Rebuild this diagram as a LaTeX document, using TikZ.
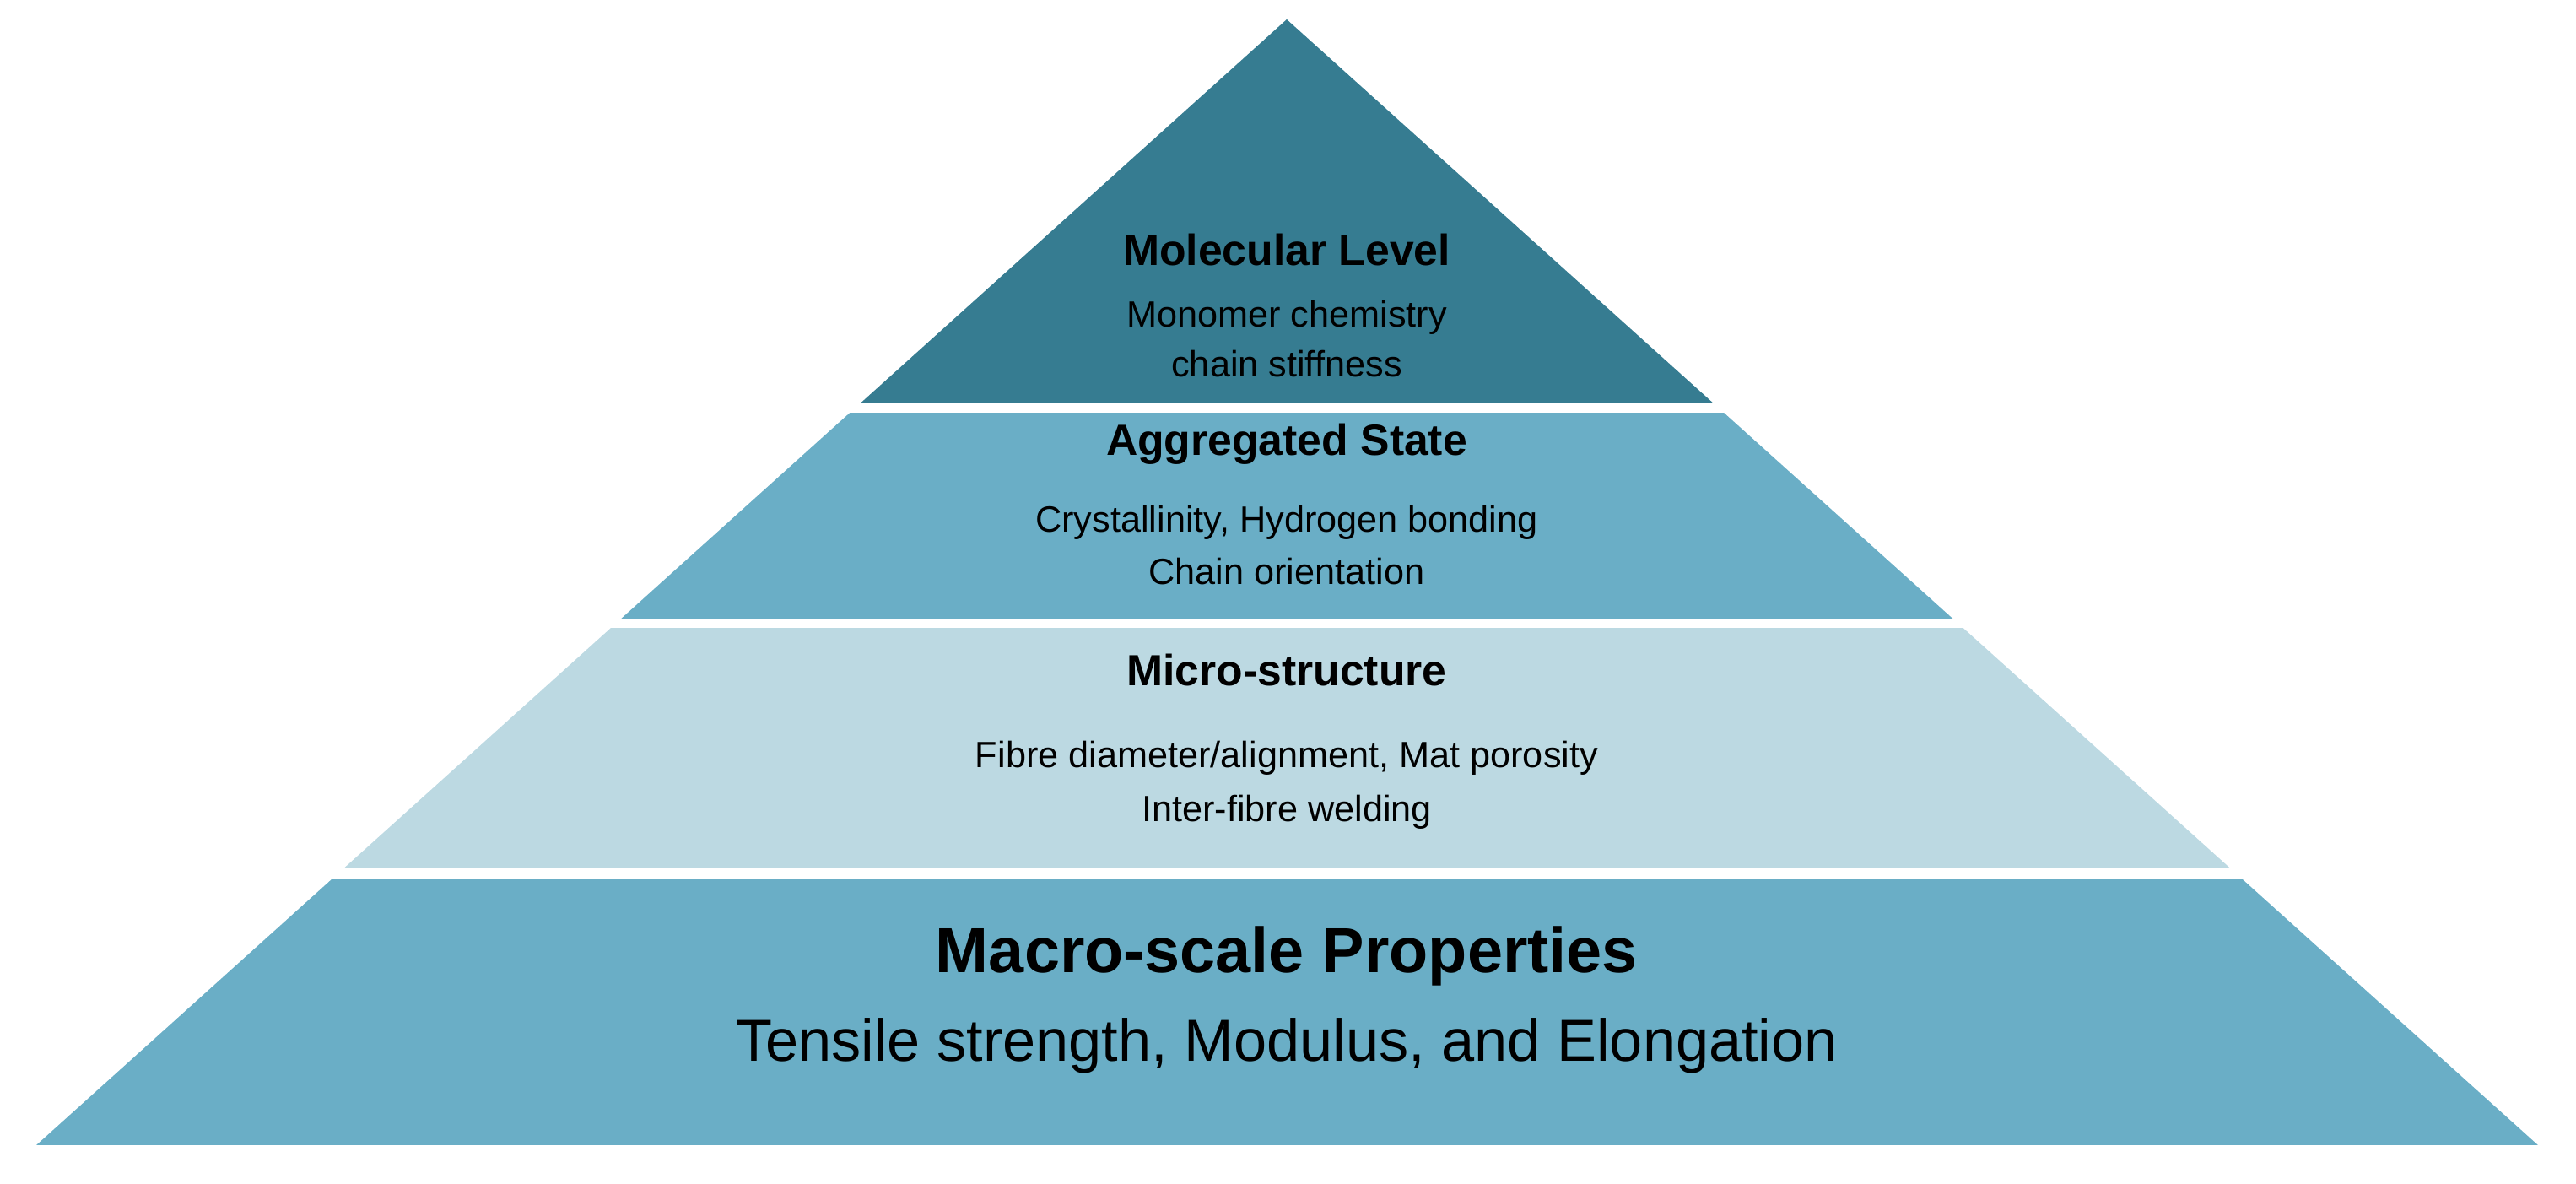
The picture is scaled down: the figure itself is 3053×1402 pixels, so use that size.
\documentclass[tikz,border=0pt]{standalone}
\usepackage{fontspec}
\setmainfont{Liberation Sans}
\definecolor{dark}{HTML}{367C91}
\definecolor{mid}{HTML}{6AAEC6}
\definecolor{light}{HTML}{BCD9E2}
\begin{document}
\begin{tikzpicture}[x=0.01cm,y=-0.01cm,
  ttl/.style={font=\fontsize{14.7}{17}\selectfont\bfseries,anchor=mid},
  txt/.style={font=\fontsize{12.3}{15}\selectfont,anchor=mid},
  bigttl/.style={font=\fontsize{21.5}{25}\selectfont\bfseries,anchor=mid},
  bigtxt/.style={font=\fontsize{20}{24}\selectfont,anchor=mid}]
\useasboundingbox (0,0) rectangle (3053,1402);
\begin{scope}
\clip (1525,23) -- (3008,1357) -- (43,1357) -- cycle;
\fill[dark] (0,0) rectangle (3053,477);
\fill[mid] (0,489) rectangle (3053,734);
\fill[light] (0,744) rectangle (3053,1028);
\fill[mid] (0,1042) rectangle (3053,1357);
\end{scope}
\node[ttl] (t1) at (1525,305) {Molecular Level};
\node[txt] (a1) at (1525,378) {Monomer chemistry};
\node[txt] (b1) at (1525,437) {chain stiffness};
\node[ttl] (t2) at (1525,530) {Aggregated State};
\node[txt] (a2) at (1525,621) {Crystallinity, Hydrogen bonding};
\node[txt] (b2) at (1525,683) {Chain orientation};
\node[ttl] (t3) at (1525,803) {Micro-structure};
\node[txt] (a3) at (1525,900) {Fibre diameter/alignment, Mat porosity};
\node[txt] (b3) at (1525,964) {Inter-fibre welding};
\node[bigttl] (t4) at (1525,1143) {Macro-scale Properties};
\node[bigtxt] (a4) at (1525,1248) {Tensile strength, Modulus, and Elongation};
\end{tikzpicture}
\end{document}
